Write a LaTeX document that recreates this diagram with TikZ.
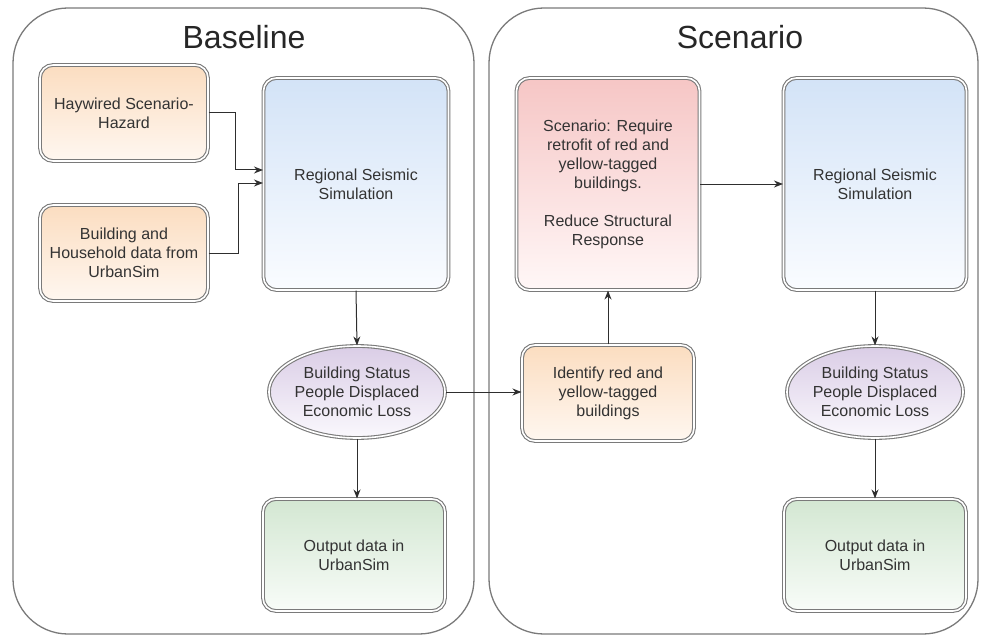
\documentclass[tikz,border=0pt]{standalone}
\usepackage{fontspec}
\setmainfont{Liberation Sans}
\usetikzlibrary{shapes.geometric,arrows.meta,calc}
\definecolor{bordergray}{HTML}{7A7A7A}
\definecolor{arrowc}{HTML}{2E2E2E}
\definecolor{txt}{HTML}{333333}
\definecolor{orTop}{HTML}{FBDDC0}
\definecolor{orBot}{HTML}{FFF7F0}
\definecolor{blTop}{HTML}{D3E3F7}
\definecolor{blBot}{HTML}{FAFCFF}
\definecolor{rdTop}{HTML}{F6C6C5}
\definecolor{rdBot}{HTML}{FFF7F7}
\definecolor{grTop}{HTML}{D3E7D2}
\definecolor{grBot}{HTML}{F8FCF8}
\definecolor{puTop}{HTML}{DACDE6}
\definecolor{puBot}{HTML}{FAF8FD}
\tikzset{
  container/.style={draw=bordergray, line width=1.3pt, rounded corners=55pt, inner sep=0pt},
  title/.style={font=\fontsize{32}{36}\selectfont, text=black!85},
  dbl/.style={draw=bordergray, line width=1.1pt, double=white, double distance=1.6pt,
     font=\fontsize{16}{19}\selectfont, text=txt, align=center, inner sep=2pt},
  rbox/.style={dbl, rounded corners=13pt},
  orbox/.style={rbox, top color=orTop, bottom color=orBot},
  blbox/.style={rbox, top color=blTop, bottom color=blBot},
  rdbox/.style={rbox, top color=rdTop, bottom color=rdBot},
  grbox/.style={rbox, top color=grTop, bottom color=grBot},
  ell/.style={dbl, ellipse, top color=puTop, bottom color=puBot,
     minimum width=170pt, minimum height=92pt, inner sep=0pt},
  arr/.style={draw=arrowc, line width=1pt, -{Stealth[length=9pt,width=7pt]}},
}
\begin{document}
\begin{tikzpicture}[x=1pt,y=-1pt]
\useasboundingbox (0,0) rectangle (984,639);
% containers
\node[container, minimum width=461pt, minimum height=626pt] (base) at (243.5,321) {};
\node[container, minimum width=489pt, minimum height=626pt] (scen) at (733.5,321) {};
\node[title] (tbase) at (244,37) {Baseline};
\node[title] (tscen) at (740,37) {Scenario};
% baseline nodes
\node[orbox, minimum width=168pt, minimum height=96pt] (hay) at (124,113) {Haywired Scenario-\\Hazard};
\node[orbox, minimum width=168pt, minimum height=96pt] (bld) at (124,253) {Building and\\Household data from\\UrbanSim};
\node[blbox, minimum width=185pt, minimum height=212pt] (regL) at (356,184) {Regional Seismic\\Simulation};
\node[ell] (elL) at (357,392) {Building Status\\People Displaced\\Economic Loss};
\node[grbox, minimum width=182pt, minimum height=112pt] (outL) at (354,555) {Output data in\\UrbanSim};
% scenario nodes
\node[rdbox, minimum width=183pt, minimum height=212pt] (red) at (608,184) {Scenario: Require\\retrofit of red and\\yellow-tagged\\buildings.\\[19pt]Reduce Structural\\Response};
\node[orbox, minimum width=172pt, minimum height=96pt] (idf) at (608,393) {Identify red and\\yellow-tagged\\buildings};
\node[blbox, minimum width=183pt, minimum height=212pt] (regR) at (875,184) {Regional Seismic\\Simulation};
\node[ell] (elR) at (875,392) {Building Status\\People Displaced\\Economic Loss};
\node[grbox, minimum width=182pt, minimum height=112pt] (outR) at (875,555) {Output data in\\UrbanSim};
% junctions
\coordinate (j1) at (235,170);
\coordinate (j2) at (238,183);
% connectors
\draw[arr] (hay.east) -| (j1) -- (j1 -| regL.west);
\draw[arr] (bld.east) -| (j2) -- (j2 -| regL.west);
\draw[arr] (regL.south) -- (elL.north);
\draw[arr] (elL.south) -- (outL.north -| elL.south);
\draw[arr] (elL.east) -- (elL.east -| idf.west);
\draw[arr] (idf.north) -- (red.south);
\draw[arr] (red.east) -- (regR.west);
\draw[arr] (regR.south) -- (elR.north);
\draw[arr] (elR.south) -- (outR.north);
\end{tikzpicture}
\end{document}
